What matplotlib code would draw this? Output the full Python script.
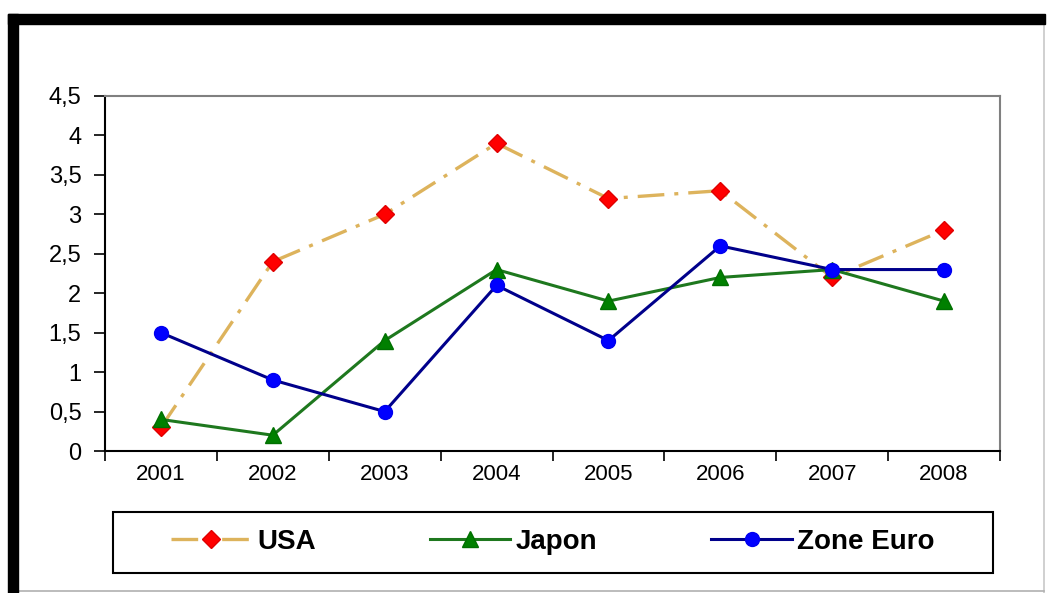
import matplotlib.pyplot as plt
from matplotlib.lines import Line2D
from matplotlib.patches import Rectangle

# data
years = ['2001', '2002', '2003', '2004', '2005', '2006', '2007', '2008']
usa = [0.3, 2.4, 3.0, 3.9, 3.2, 3.3, 2.2, 2.8]
japon = [0.4, 0.2, 1.4, 2.3, 1.9, 2.2, 2.3, 1.9]
zone_euro = [1.5, 0.9, 0.5, 2.1, 1.4, 2.6, 2.3, 2.3]
y_ticks = [0, 0.5, 1, 1.5, 2, 2.5, 3, 3.5, 4, 4.5]

plt.rcParams['font.family'] = ['Liberation Sans', 'DejaVu Sans']

W, H = 1050, 593
fig = plt.figure(figsize=(W / 100, H / 100), dpi=100)
ax = fig.add_axes([105 / W, 1 - 451 / H, 895 / W, 355 / H])

x = list(range(len(years)))
ax.plot(x, usa, color='#DDB35C', linewidth=2.4, dashes=(8, 3, 1.2, 3),
        marker='D', markersize=9, markerfacecolor='#FF0000',
        markeredgecolor='#E00000', label='USA', zorder=3)
ax.plot(x, japon, color='#1E781E', linewidth=2.2,
        marker='^', markersize=11, markerfacecolor='#008000',
        markeredgecolor='#007000', label='Japon', zorder=4)
ax.plot(x, zone_euro, color='#00008B', linewidth=2.2,
        marker='o', markersize=10, markerfacecolor='#0000FF',
        markeredgecolor='#0000EE', label='Zone Euro', zorder=5)

ax.set_xlim(-0.5, len(years) - 0.5)
ax.set_ylim(0, 4.5)
ax.set_yticks(y_ticks)
ax.set_yticklabels([f'{v:g}'.replace('.', ',') for v in y_ticks], fontsize=17)
ax.set_xticks([i - 0.5 for i in range(len(years) + 1)])
ax.set_xticklabels([])
ax.set_xticks(x, minor=True)
ax.set_xticklabels(years, minor=True, fontsize=16)
ax.tick_params(axis='x', which='minor', length=0, pad=9)
ax.tick_params(axis='x', which='major', length=7, width=1.2, direction='out')
ax.tick_params(axis='y', length=8, width=1.2, direction='out', pad=9)

for side in ['left', 'bottom']:
    ax.spines[side].set_color('black')
    ax.spines[side].set_linewidth(1.5)
for side in ['top', 'right']:
    ax.spines[side].set_color('#808080')
    ax.spines[side].set_linewidth(1.5)

# legend box drawn separately, entries centred inside it
fig.add_artist(Rectangle((113 / W, 1 - 573 / H), 880 / W, 61 / H, transform=fig.transFigure,
                         facecolor='white', edgecolor='black', linewidth=1.5, zorder=1))
leg = fig.legend(handles=ax.get_lines(), loc='center',
                 bbox_to_anchor=(553 / W, 1 - 542 / H),
                 ncol=3, frameon=False, handlelength=2.9, handletextpad=0.2,
                 columnspacing=4.1, borderaxespad=0,
                 prop={'weight': 'bold', 'size': 20})
leg.set_zorder(2)

# black frame at the top and left, thin grey lines right and bottom
fig.add_artist(Rectangle((8 / W, 0), 10 / W, 1 - 14 / H, transform=fig.transFigure,
                         color='black', zorder=10))
fig.add_artist(Rectangle((8 / W, 1 - 24 / H), 1037 / W, 10 / H, transform=fig.transFigure,
                         color='black', zorder=10))
fig.add_artist(Line2D([1044 / W, 1044 / W], [0, 1 - 24 / H], transform=fig.transFigure,
                      color='#C8C8C8', linewidth=1.2))
fig.add_artist(Line2D([18 / W, 1044 / W], [1 - 591 / H, 1 - 591 / H], transform=fig.transFigure,
                      color='#B0B0B0', linewidth=1.2))

fig.savefig('out.png', dpi=100)
